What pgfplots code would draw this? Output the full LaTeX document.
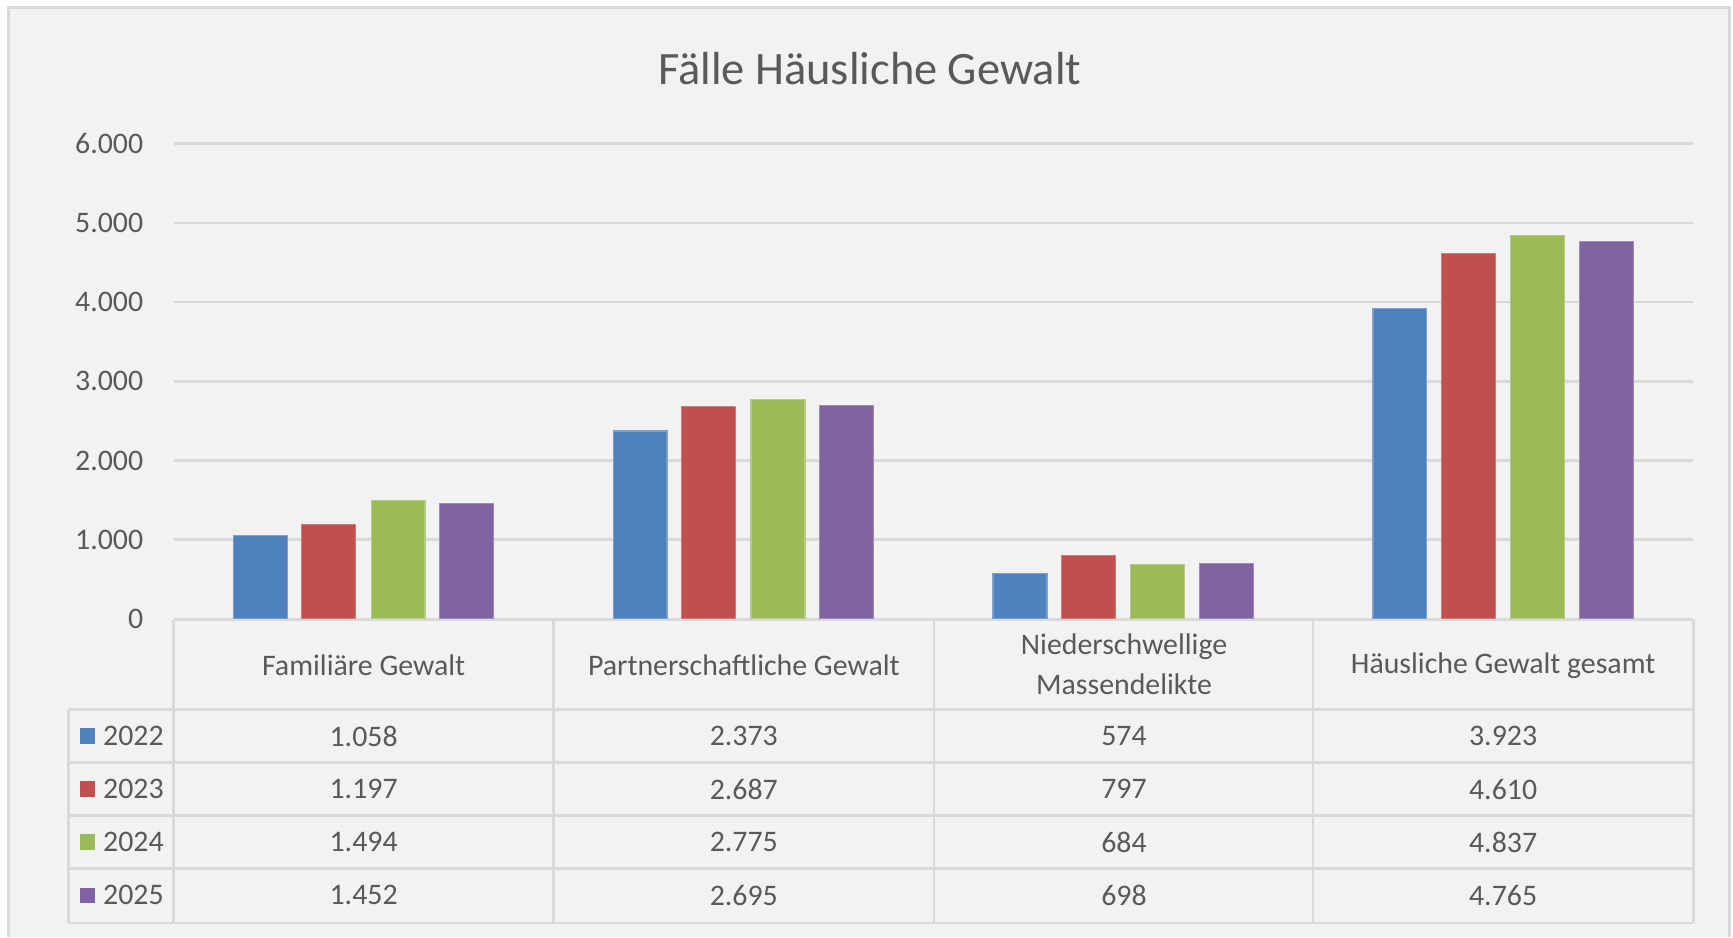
\documentclass[border=0pt]{standalone}
\usepackage{pgfplots}
\pgfplotsset{compat=1.18}
\usepackage{fontspec}
\setmainfont{Carlito}

\definecolor{c22}{HTML}{4F81BD}
\definecolor{c23}{HTML}{C0504D}
\definecolor{c24}{HTML}{9BBB59}
\definecolor{c25}{HTML}{8064A2}
\definecolor{txt}{HTML}{595959}
\definecolor{gridc}{HTML}{D9D9D9}
\definecolor{bg}{HTML}{F2F2F2}

\begin{document}
\begin{tikzpicture}
% background and title (1 unit = one pixel of the reference, y downwards)
\begin{scope}[x=0.5pt,y=-0.5pt]
  \fill[white] (0,0) rectangle (1568,848);
  \fill[bg] (8,7) rectangle (1565,848);
  \draw[gridc, line width=1.5pt] (8,848) -- (8,7) -- (1565,7) -- (1565,848);
  \node[txt, font=\fontsize{21}{25}\selectfont] at (787,62) {Fälle Häusliche Gewalt};
\end{scope}

\begin{axis}[
    at={(78.5pt,-280pt)}, anchor=south west,
    scale only axis, width=687.5pt, height=215pt,
    xmin=-0.5, xmax=3.5, ymin=0, ymax=6000,
    xtick=\empty,
    ytick={0,1000,...,6000},
    scaled y ticks=false,
    yticklabel style={
        /pgf/number format/.cd, fixed, precision=0, 1000 sep={.}, assume math mode=true,
        /tikz/.cd, font=\fontsize{13.5}{16}\selectfont, text=txt, inner sep=0pt, xshift=-13.5pt},
    major tick length=0pt,
    ymajorgrids, grid style={gridc, line width=1.2pt},
    axis line style={draw=none},
    ybar, bar width=0.142,
]
\addplot[fill=c22, draw=c22!75!white, line width=0.5pt, bar shift=-0.272] coordinates {(0,1058) (1,2373) (2,574) (3,3923)};
\addplot[fill=c23, draw=c23!75!white, line width=0.5pt, bar shift=-0.091] coordinates {(0,1197) (1,2687) (2,797) (3,4610)};
\addplot[fill=c24, draw=c24!75!white, line width=0.5pt, bar shift=0.091] coordinates {(0,1494) (1,2775) (2,684) (3,4837)};
\addplot[fill=c25, draw=c25!75!white, line width=0.5pt, bar shift=0.272] coordinates {(0,1452) (1,2695) (2,698) (3,4765)};
\end{axis}

% data table below the plot
\begin{scope}[x=0.5pt,y=-0.5pt, every node/.style={text=txt, font=\fontsize{13.5}{16}\selectfont}]
  \draw[gridc, line width=1.2pt] (157,561) -- (1532,561);
  \foreach \y in {642,690,738,786,835} \draw[gridc, line width=1.2pt] (62,\y) -- (1532,\y);
  \foreach \x in {157,501,845,1188,1532} \draw[gridc, line width=1.2pt] (\x,561) -- (\x,835);
  \draw[gridc, line width=1.2pt] (62,642) -- (62,835);

  \node at (329,602) {Familiäre Gewalt};
  \node at (673,602) {Partnerschaftliche Gewalt};
  \node[align=center, font=\fontsize{13.5}{18.5}\selectfont] at (1017,601) {Niederschwellige\\Massendelikte};
  \node at (1360,602) {Häusliche Gewalt gesamt};

  \foreach \y/\c/\yr/\a/\b/\cc/\d in {
      666/c22/2022/1.058/2.373/574/3.923,
      714/c23/2023/1.197/2.687/797/4.610,
      762/c24/2024/1.494/2.775/684/4.837,
      810/c25/2025/1.452/2.695/698/4.765} {
    \fill[\c] (72,\y-7) rectangle (86,\y+7);
    \node[anchor=west, inner sep=0pt] at (93,\y) {\yr};
    \node at (329,\y) {\a};
    \node at (673,\y) {\b};
    \node at (1017,\y) {\cc};
    \node at (1360,\y) {\d};
  }
  \pgfresetboundingbox
  \path (0,0) rectangle (1568,848);
\end{scope}
\end{tikzpicture}
\end{document}
